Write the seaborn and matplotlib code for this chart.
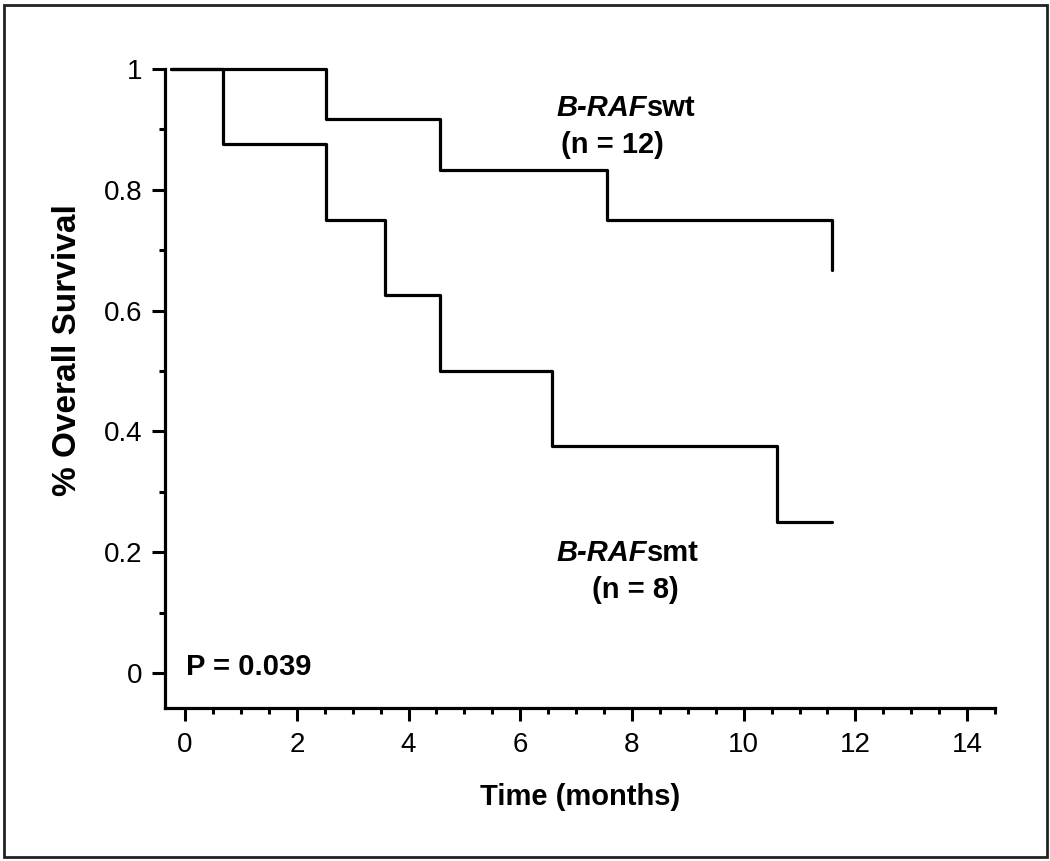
import matplotlib
matplotlib.use("Agg")
import matplotlib.pyplot as plt
import seaborn as sns
import pandas as pd
from matplotlib.ticker import MultipleLocator
from matplotlib.patches import Rectangle

# Data (Kaplan-Meier step points)
swt_time = [-0.25, 2.53, 4.56, 7.55, 11.58]
swt_surv = [1.0, 0.917, 0.833, 0.75, 0.667]
smt_time = [-0.25, 0.68, 2.53, 3.57, 4.56, 6.56, 10.6, 11.58]
smt_surv = [1.0, 0.875, 0.75, 0.625, 0.5, 0.375, 0.25, 0.25]
groups = ["B-RAFswt", "B-RAFsmt"]
x_ticks = [0, 2, 4, 6, 8, 10, 12, 14]
y_ticks = [0, 0.2, 0.4, 0.6, 0.8, 1.0]
y_ticklabels = ["0", "0.2", "0.4", "0.6", "0.8", "1"]

df = pd.concat([
    pd.DataFrame({"time": swt_time, "surv": swt_surv, "group": groups[0]}),
    pd.DataFrame({"time": smt_time, "surv": smt_surv, "group": groups[1]}),
])

sns.set_style("ticks")
plt.rcParams["font.family"] = ["Liberation Sans", "DejaVu Sans"]
plt.rcParams["text.color"] = "black"
plt.rcParams["axes.labelcolor"] = "black"
plt.rcParams["xtick.color"] = "black"
plt.rcParams["ytick.color"] = "black"

fig = plt.figure(figsize=(10.5, 8.61), dpi=100)
ax = fig.add_axes([165/1050, 1-708/861, (995-165)/1050, (708-69)/861])

sns.lineplot(data=df, x="time", y="surv", hue="group", palette=["black", "black"],
             estimator=None, drawstyle="steps-post", linewidth=2.3, legend=False,
             ax=ax, clip_on=False)

ax.set_xlim(-0.36, 14.5)
ax.set_ylim(-0.058, 1.0)
ax.set_xticks(x_ticks)
ax.set_xticklabels([str(t) for t in x_ticks])
ax.set_yticks(y_ticks)
ax.set_yticklabels(y_ticklabels)
ax.xaxis.set_minor_locator(MultipleLocator(0.5))
ax.yaxis.set_minor_locator(MultipleLocator(0.1))
for s in ["top", "right"]:
    ax.spines[s].set_visible(False)
for s in ["left", "bottom"]:
    ax.spines[s].set_linewidth(2.3)
    ax.spines[s].set_color("black")
ax.tick_params(axis="both", which="major", length=9.5, width=2.2, labelsize=20)
ax.tick_params(axis="both", which="minor", length=4.5, width=2.2)
ax.tick_params(axis="x", which="major", pad=8)
ax.tick_params(axis="y", which="major", pad=6.5)

ax.set_xlabel("Time (months)", fontsize=21, fontweight="bold")
ax.set_ylabel("% Overall Survival", fontsize=24, fontweight="bold")
ax.xaxis.label.set_va("center")
ax.xaxis.set_label_coords(0.5, (708-797)/639)
ax.yaxis.label.set_va("center")
ax.yaxis.label.set_ha("center")
ax.yaxis.set_label_coords((68-165)/830, (708-350)/639)

split = 8.27
ax.text(split, 0.935, "B-RAF", fontsize=21, fontweight="bold", fontstyle="italic", ha="right", va="center")
ax.text(split, 0.935, "swt", fontsize=21, fontweight="bold", ha="left", va="center")
ax.text(7.65, 0.874, "(n = 12)", fontsize=21, fontweight="bold", ha="center", va="center")
ax.text(split, 0.199, "B-RAF", fontsize=21, fontweight="bold", fontstyle="italic", ha="right", va="center")
ax.text(split, 0.199, "smt", fontsize=21, fontweight="bold", ha="left", va="center")
ax.text(8.06, 0.137, "(n = 8)", fontsize=21, fontweight="bold", ha="center", va="center")
ax.text(0.02, 0.01, "P = 0.039", fontsize=21, fontweight="bold", ha="left", va="center")

fig.patches.append(Rectangle((4/1050, 1-857/861), 1043/1050, 852/861, transform=fig.transFigure,
                             fill=False, edgecolor="#222222", linewidth=2))

fig.savefig("out.png", dpi=100)
